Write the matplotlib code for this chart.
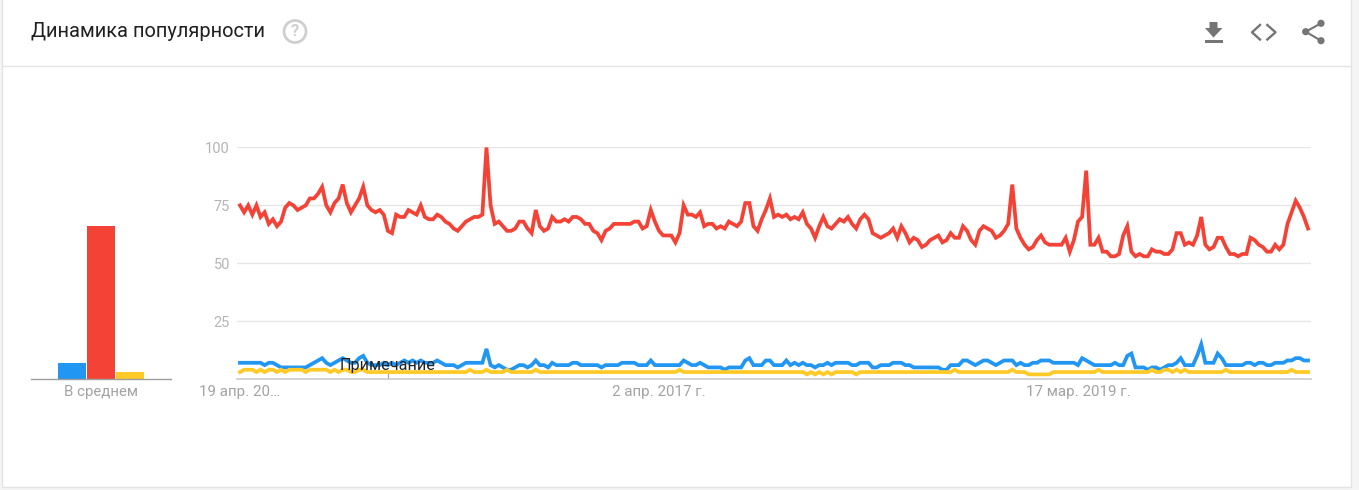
import matplotlib
matplotlib.use("Agg")
import matplotlib.pyplot as plt
from matplotlib.patches import Rectangle, Circle, Polygon

plt.rcParams['font.family'] = ['Roboto', 'DejaVu Sans']

title = "Динамика популярности"
avg_label = "В среднем"
note_label = "Примечание"
note_week = 36
tick_weeks = [0, 102, 204]
tick_labels = ["19 апр. 20…", "2 апр. 2017 г.", "17 мар. 2019 г."]
y_ticks = [25, 50, 75, 100]

avg_blue = 7
avg_red = 66
avg_yellow = 3

red = [75,72,75,71,75,70,72,67,69,66,
       68,74,76,75,73,74,75,78,78,80,
       83,75,72,76,78,84,76,72,75,78,
       83,75,73,72,73,71,64,63,71,70,
       70,73,72,71,75,70,69,69,71,70,
       68,67,65,64,66,68,69,70,70,71,
       100,75,67,68,66,64,64,65,68,68,
       65,63,73,66,64,65,70,68,68,69,
       68,70,70,69,67,67,64,63,60,64,
       65,67,67,67,67,67,68,68,65,66,
       73,68,64,62,62,62,59,63,75,71,
       71,70,72,66,67,67,65,66,65,68,
       67,66,68,76,76,66,64,69,73,78,
       70,71,70,71,69,70,69,72,67,65,
       61,66,70,66,65,67,69,68,70,67,
       65,69,71,69,63,62,61,62,63,65,
       61,66,63,59,61,60,57,58,60,61,
       62,59,60,63,61,61,66,64,60,58,
       64,66,65,64,61,62,64,67,84,65,
       61,58,56,57,60,62,59,58,58,58,
       58,61,55,60,68,70,90,58,58,61,
       55,55,53,53,54,62,66,55,53,54,
       53,53,56,55,55,54,54,56,63,63,
       58,59,58,62,70,58,56,57,61,61,
       57,54,54,53,54,54,61,60,58,57,
       55,55,58,56,58,67,72,77,74,70,
       65]

blue = [7,7,7,7,7,7,6,7,7,6,
        5,5,5,5,5,5,5,6,7,8,
        9,7,6,7,8,9,8,7,7,9,
        10,7,6,6,6,7,6,7,6,7,
        8,7,8,7,8,7,7,7,8,7,
        6,6,6,5,6,7,7,7,7,7,
        13,6,5,6,5,4,4,5,6,6,
        5,6,8,6,6,5,7,6,6,6,
        6,7,7,6,6,6,6,6,5,6,
        6,6,6,7,7,7,7,6,6,6,
        8,6,6,6,6,6,6,6,8,7,
        6,6,7,6,5,5,5,5,4,5,
        5,5,5,8,9,6,6,6,8,8,
        6,6,6,8,6,7,6,7,6,6,
        5,6,6,7,6,7,7,7,7,6,
        6,7,7,7,5,5,6,6,6,7,
        7,7,6,6,5,5,5,5,5,5,
        5,4,4,6,6,6,8,8,7,6,
        7,8,8,7,6,7,8,8,8,6,
        7,6,6,7,7,8,8,8,7,7,
        7,7,7,7,6,9,8,7,6,6,
        6,6,6,7,6,6,10,11,5,5,
        5,4,5,5,4,5,6,6,7,9,
        6,6,6,10,15,7,7,7,11,9,
        6,6,6,6,6,7,7,6,7,7,
        6,6,7,7,7,8,8,9,9,8,
        8]

yellow = [3,4,4,4,3,4,3,4,4,3,
          4,3,4,4,4,4,3,4,4,4,
          4,4,3,4,3,4,4,3,3,4,
          4,3,3,3,3,3,3,3,3,3,
          3,3,3,3,3,3,3,3,3,3,
          3,3,3,3,3,3,4,3,3,3,
          4,3,3,3,3,4,3,3,3,3,
          3,3,4,3,3,3,3,3,3,3,
          3,3,3,3,3,3,3,3,3,3,
          3,3,3,3,3,3,3,3,3,3,
          3,3,3,3,3,3,3,4,3,3,
          3,3,3,3,3,3,3,3,3,3,
          3,3,3,3,3,3,3,3,3,3,
          3,3,3,3,3,3,3,3,2,3,
          2,3,2,3,2,3,3,3,3,3,
          2,3,3,3,3,3,3,3,3,3,
          3,3,3,3,3,3,3,3,3,3,
          3,3,3,3,4,3,3,3,3,3,
          3,3,3,3,3,3,3,3,4,3,
          3,3,2,2,2,2,2,2,3,3,
          3,3,3,3,3,3,3,3,3,4,
          3,3,3,3,3,3,3,3,3,3,
          3,3,4,3,3,4,4,3,4,3,
          4,3,3,3,3,3,3,3,3,3,
          4,3,3,3,3,3,3,3,3,3,
          3,3,3,3,3,3,4,3,3,3,
          3]

C_BLUE, C_RED, C_YEL = '#2196f3', '#f44336', '#ffca28'
C_GREY = '#a3a3a3'
W, H = 1359, 490

fig = plt.figure(figsize=(W / 100, H / 100), dpi=100, facecolor='#f5f5f5')


def px_axes(x0, y_top, x1, y_bot):
    return fig.add_axes([x0 / W, 1 - y_bot / H, (x1 - x0) / W, (y_bot - y_top) / H])


# card chrome in pixel coordinates
bg = fig.add_axes([0, 0, 1, 1], zorder=0)
bg.set_xlim(0, W)
bg.set_ylim(H, 0)
bg.axis('off')
bg.add_patch(Rectangle((1.5, -2), 1349.5, 489, fc='white', ec='#e4e4e4', lw=1))
bg.plot([1.5, 1351], [66.5, 66.5], color='#e4e4e4', lw=1)
bg.text(31, 31.5, title, fontsize=14.45, color='#212121', va='center', ha='left')
bg.add_patch(Circle((295, 31.5), 11, fc='none', ec='#cfcfcf', lw=2.0))
bg.text(295, 31.5, '?', fontsize=12, color='#cfcfcf', ha='center', va='center', fontweight='bold')
ICON = '#757575'
bg.add_patch(Polygon([(1209.5, 22), (1217.5, 22), (1217.5, 28), (1222.5, 28), (1213.5, 37.5),
                      (1205, 28), (1209.5, 28)], fc=ICON, ec='none'))
bg.add_patch(Rectangle((1205, 40.2), 17.5, 2.6, fc=ICON, ec='none'))
bg.plot([1260, 1252, 1260], [25, 32.3, 39.5], color=ICON, lw=1.7)
bg.plot([1267.3, 1275.5, 1267.3], [25, 32.3, 39.5], color=ICON, lw=1.7)
bg.plot([1321, 1305.7, 1321], [23.3, 31.7, 40.7], color=ICON, lw=1.5)
for cx, cy in [(1321, 23.3), (1305.7, 31.7), (1321, 40.7)]:
    bg.add_patch(Circle((cx, cy), 3.6, fc=ICON, ec='none'))

# average bars
ax_bar = px_axes(31, 147.5, 171, 379)
ax_bar.patch.set_alpha(0)
ax_bar.set_zorder(1)
ax_bar.bar([0, 1, 2], [avg_blue, avg_red, avg_yellow], width=0.95,
           color=[C_BLUE, C_RED, C_YEL])
ax_bar.set_xlim(-1.41, 3.41)
ax_bar.set_ylim(0, 100)
ax_bar.set_yticks([])
ax_bar.set_xticks([1], [avg_label])
ax_bar.tick_params(axis='x', length=0, pad=4.3, labelsize=10.8, labelcolor=C_GREY)
for s in ['top', 'left', 'right']:
    ax_bar.spines[s].set_visible(False)
ax_bar.spines['bottom'].set_color('#9e9e9e')
ax_bar.spines['bottom'].set_linewidth(1)

# time lines
ax = px_axes(237, 147.5, 1310.5, 379)
ax.patch.set_alpha(0)
ax.set_zorder(1)
weeks = list(range(len(red)))
ax.plot(weeks, blue, color=C_BLUE, lw=2.7, solid_joinstyle='miter', zorder=3)
ax.plot(weeks, red, color=C_RED, lw=2.7, solid_joinstyle='miter', zorder=3)
ax.plot(weeks, yellow, color=C_YEL, lw=2.7, solid_joinstyle='miter', zorder=4)
ax.set_xlim(-0.73, 260.6)
ax.set_ylim(0, 100)
ax.set_yticks(y_ticks)
ax.set_xticks(tick_weeks, tick_labels)
ax.set_xticks([note_week], minor=True)
ax.grid(axis='y', color='#e6e6e6', lw=1)
ax.set_axisbelow(True)
ax.tick_params(axis='y', length=0, pad=5, labelsize=10.5, labelcolor='#b5b5b5')
ax.tick_params(axis='x', which='major', length=0, pad=4.3, labelsize=10.9, labelcolor=C_GREY)
ax.tick_params(axis='x', which='minor', direction='in', length=4, width=0.8, color='#9e9e9e')
for s in ['top', 'left', 'right']:
    ax.spines[s].set_visible(False)
ax.spines['bottom'].set_color('#cccccc')
ax.spines['bottom'].set_linewidth(1.2)
ax.text(note_week, 6, note_label, fontsize=11.7, color='#222222', ha='center', va='center', zorder=5)

fig.savefig('out.png', dpi=100, facecolor=fig.get_facecolor())
